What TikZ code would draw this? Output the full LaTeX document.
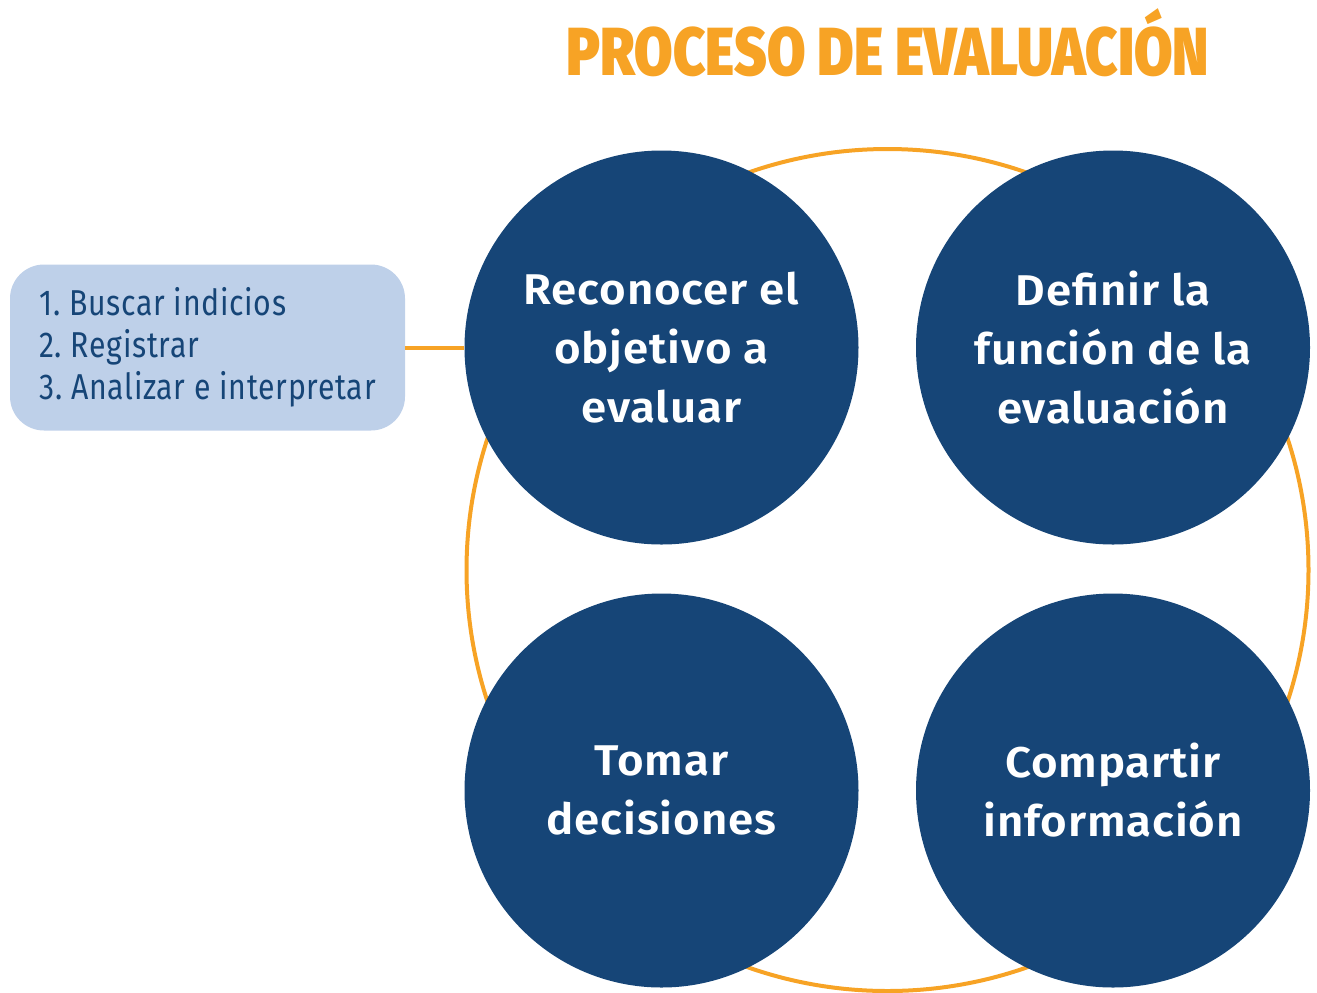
\documentclass[tikz,border=0pt]{standalone}
\usepackage{fontspec}
\setmainfont{Fira Sans}
\newfontfamily\circfont{Fira Sans SemiBold}[FakeStretch=1.06, LetterSpace=2]
\newfontfamily\titlefont{Fira Sans Black}[FakeStretch=0.82]
\newfontfamily\boxfont{Fira Sans}[FakeStretch=0.84, LetterSpace=2]
\definecolor{naranja}{HTML}{F7A325}
\definecolor{azul}{HTML}{164577}
\definecolor{celeste}{HTML}{BED0E9}
\tikzset{
  etapa/.style={circle, fill=azul, minimum size=197pt, inner sep=0pt, align=center,
    text=white, font=\circfont\fontsize{21.5}{29.5}\selectfont},
  anillo/.style={draw=naranja, line width=2pt},
  enlace/.style={draw=naranja, line width=2pt},
  pasos/.style={fill=celeste, rounded corners=17pt, minimum width=197.5pt, minimum height=83pt,
    inner xsep=12pt, align=left, text=azul,
    font=\boxfont\frenchspacing\fontsize{18}{21}\selectfont},
  titulo/.style={text=naranja, font=\titlefont\fontsize{34}{40}\selectfont, inner sep=0pt}
}
\begin{document}
\begin{tikzpicture}[x=0.5pt, y=-0.5pt]
  \useasboundingbox (0,0) rectangle (1317,992);

  \node [titulo] (titulo) at (888,43) {PROCESO DE EVALUACIÓN}; % title

  \coordinate (centro) at (887.5,570);
  \draw [anillo] (centro) circle [radius=210.5pt]; % ring behind the circles

  \node [etapa] (reconocer) at (661.5,347.5) {Reconocer el\\objetivo a\\evaluar};
  \node [etapa] (definir) at (1113,347.5) {Definir la\\función de la\\evaluación};
  \node [etapa] (tomar) at (661.5,790.5) {Tomar\\decisiones};
  \node [etapa] (compartir) at (1113,790.5) {Compartir\\información};

  \node [pasos] (pasos) at (207.5,347.5) {1. Buscar indicios\\2. Registrar\\3. Analizar e interpretar};

  \draw [enlace] (pasos.east) -- (reconocer.west);
\end{tikzpicture}
\end{document}
